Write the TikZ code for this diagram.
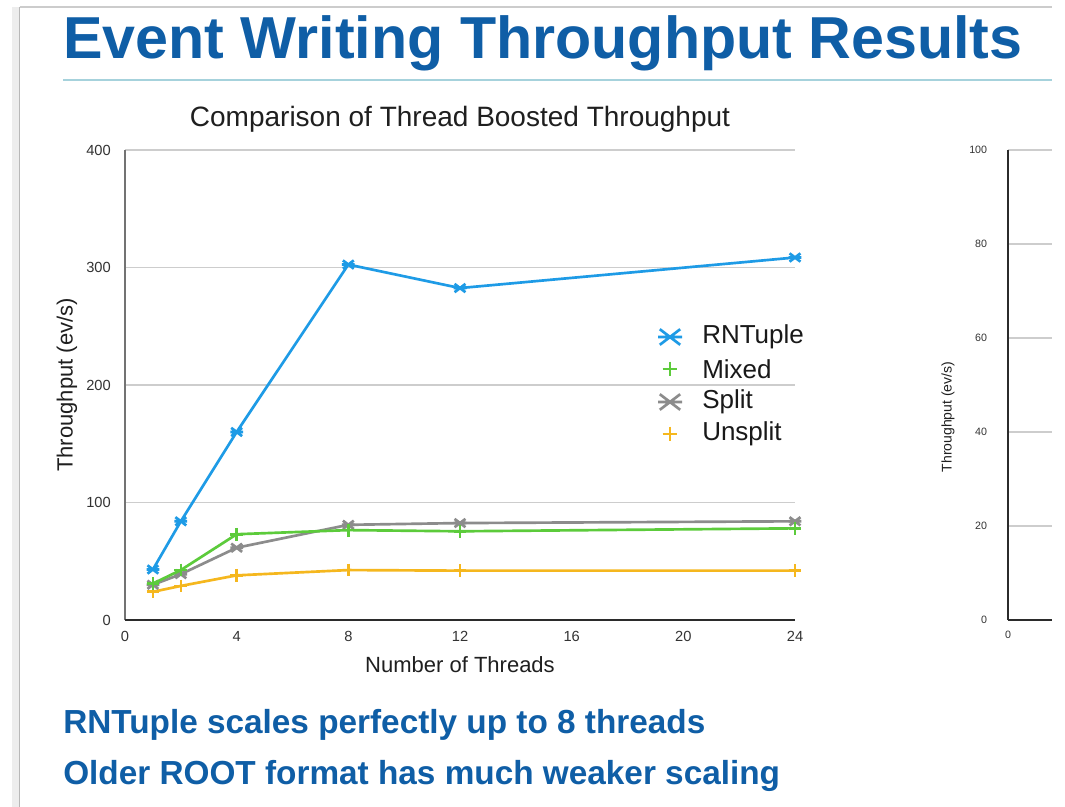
\documentclass[tikz,border=0pt]{standalone}
\usepackage{fontspec}
\setmainfont{Liberation Sans}
\usetikzlibrary{plotmarks}
\definecolor{cHead}{HTML}{0F5EA6}
\definecolor{cRule}{HTML}{A6D2DC}
\definecolor{cRnt} {HTML}{1E9BE6}
\definecolor{cMix} {HTML}{5CCB3B}
\definecolor{cSpl} {HTML}{8C8C8C}
\definecolor{cUns} {HTML}{F5B71E}
\definecolor{cGrid}{HTML}{CDCDCD}
\definecolor{cAxis}{HTML}{2B2B2B}
% x with a bar through it, as the chart tool draws it
\pgfdeclareplotmark{xbar}{%
  \pgfpathmoveto{\pgfqpoint{-\pgfplotmarksize}{0pt}}%
  \pgfpathlineto{\pgfqpoint{\pgfplotmarksize}{0pt}}%
  \pgfpathmoveto{\pgfqpoint{-.85\pgfplotmarksize}{-.65\pgfplotmarksize}}%
  \pgfpathlineto{\pgfqpoint{.85\pgfplotmarksize}{.65\pgfplotmarksize}}%
  \pgfpathmoveto{\pgfqpoint{-.85\pgfplotmarksize}{.65\pgfplotmarksize}}%
  \pgfpathlineto{\pgfqpoint{.85\pgfplotmarksize}{-.65\pgfplotmarksize}}%
  \pgfusepathqstroke}
\tikzset{
  slidetitle/.style={font=\bfseries\fontsize{44.4}{50}\selectfont,text=cHead,
                     inner sep=0pt,anchor=base west},
  bullet/.style    ={font=\bfseries\fontsize{25}{29}\selectfont,text=cHead,
                     inner sep=0pt,anchor=base west},
  titlerule/.style ={draw=cRule,line width=1.6pt},
  plottitle/.style ={font=\fontsize{21}{25}\selectfont,text=black!88,inner sep=0pt},
  axtitle/.style   ={font=\fontsize{16.5}{20}\selectfont,text=black!88,inner sep=0pt},
  ticklbl/.style   ={font=\fontsize{11}{13}\selectfont,text=black!80,inner sep=0pt},
  smalltick/.style ={font=\fontsize{8}{10}\selectfont,text=black!80,inner sep=0pt},
  smalltitle/.style={font=\fontsize{10.5}{12}\selectfont,text=black!88,inner sep=0pt},
  legtext/.style   ={font=\fontsize{19.5}{24}\selectfont,text=black!90,inner sep=0pt,
                     anchor=west},
  gridln/.style    ={draw=cGrid,line width=0.9pt},
  yaxis/.style     ={draw=black!55,line width=1.5pt},
  xaxis/.style     ={draw=cAxis,line width=1.5pt},
  series/.style    ={line width=2pt,line join=round,mark size=4.8pt,
                     mark options={solid,line width=2pt}},
}

\begin{document}
\begin{tikzpicture}[x=0.75pt,y=-0.75pt]
\useasboundingbox (0,0) rectangle (1065,807);
\fill[white] (0,0) rectangle (1065,807);

% slide edge
\fill[black!7] (12,7) rectangle (19,807);
\draw[black!28,line width=0.9pt] (19.5,7) -- (19.5,807);
\draw[black!20,line width=1.2pt] (19.5,7) -- (1052,7);

\node[slidetitle] (title) at (63,58) {Event Writing Throughput Results};
\draw[titlerule] (63,80) -- (1052,80);

% left chart
\node[plottitle] (ptitle) at (460,119) {Comparison of Thread Boosted Throughput};
\begin{scope}[shift={(125,620)},x=20.9375pt,y=0.88125pt]
  \foreach \v in {100,200,300,400}
    \draw[gridln] (0,\v) -- (24,\v);
  \foreach \v in {0,100,200,300,400}
    \node[ticklbl,anchor=east,xshift=-10.5pt] (ty\v) at (0,\v) {\v};
  \foreach \t in {0,4,...,24}
    \node[ticklbl,yshift=-12.5pt] (tx\t) at (\t,0) {\t};
  \draw[yaxis] (0,0) -- (0,400);
  \draw[xaxis] (0,0) -- (24,0);

  \draw[series,cUns,mark=+] plot coordinates
    {(1,24) (2,29) (4,38) (8,42.5) (12,42) (24,42)};
  \draw[series,cSpl,mark=xbar] plot coordinates
    {(1,30) (2,39) (4,61.5) (8,81) (12,82.5) (24,84)};
  \draw[series,cMix,mark=+] plot coordinates
    {(1,31) (2,42.5) (4,73) (8,76.5) (12,75.5) (24,78)};
  \draw[series,cRnt,mark=xbar] plot coordinates
    {(1,43) (2,84) (4,160) (8,302.5) (12,282.5) (24,308.5)};
\end{scope}
\node[axtitle,rotate=90] (ylab) at (67,385) {Throughput (ev/s)};
\node[axtitle] (xlab) at (460,665) {Number of Threads};

% legend
\path[series,cRnt,mark=xbar,mark size=9pt] plot coordinates {(670,337)};
\path[series,cMix,mark=+,mark size=5.6pt]  plot coordinates {(670,369)};
\path[series,cSpl,mark=xbar,mark size=9pt] plot coordinates {(670,402)};
\path[series,cUns,mark=+,mark size=5.6pt]  plot coordinates {(670,434)};
\node[legtext] (lgrnt) at (702,337) {RNTuple};
\node[legtext] (lgmix) at (702,369) {Mixed};
\node[legtext] (lgspl) at (702,402) {Split};
\node[legtext] (lguns) at (702,434) {Unsplit};

% right chart, cut off by the slide edge
\begin{scope}[shift={(1008,620)},y=3.525pt]
  \foreach \v in {20,40,...,100}
    \draw[gridln] (0,\v) -- (44,\v);
  \foreach \v in {0,20,40,...,100}
    \node[smalltick,anchor=east,xshift=-15.5pt] (ry\v) at (0,\v) {\v};
  \node[smalltick,yshift=-11pt] (rx0) at (0,0) {0};
  \draw[xaxis,line width=1.1pt] (0,0) -- (0,100);
  \draw[xaxis,line width=1.1pt] (0,0) -- (44,0);
\end{scope}
\node[smalltitle,rotate=90] (rylab) at (948,417) {Throughput (ev/s)};

\node[bullet] (pt1) at (63,733) {RNTuple scales perfectly up to 8 threads};
\node[bullet] (pt2) at (63,784) {Older ROOT format has much weaker scaling};
\end{tikzpicture}
\end{document}
